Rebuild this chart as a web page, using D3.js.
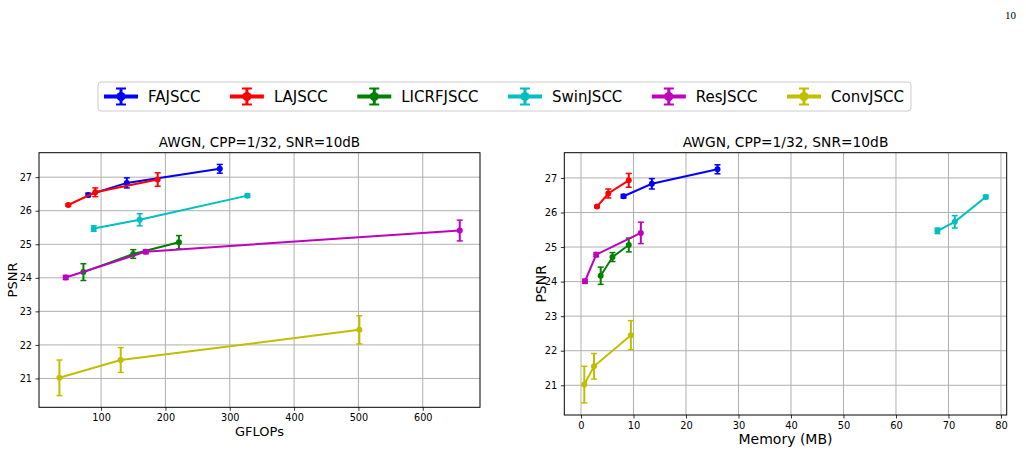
<!DOCTYPE html>
<html>
<head>
<meta charset="utf-8">
<script src="https://cdn.jsdelivr.net/npm/d3@7"></script>
<style>
  body { margin: 0; background: #fff; }
  svg { display: block; font-family: "DejaVu Sans", sans-serif; }
</style>
</head>
<body>
<div id="chart-container"></div>
<script>
// Data
const models = ["FAJSCC", "LAJSCC", "LICRFJSCC", "SwinJSCC", "ResJSCC", "ConvJSCC"];
const colors = ["#0000ff", "#ff0000", "#008000", "#00bfbf", "#bf00bf", "#bfbf00"];
const gflops = [
  [80, 140, 284.5],
  [49, 91, 188],
  [72.5, 150, 221],
  [88.5, 160, 327.5],
  [45, 169.5, 657.5],
  [35.2, 130.5, 501.5]
];
const memoryMB = [
  [8.1, 13.5, 26],
  [3.05, 5.2, 9.1],
  [3.75, 6, 9.1],
  [67.9, 71.2, 77.1],
  [0.76, 2.9, 11.4],
  [0.63, 2.48, 9.5]
];
const psnr = [
  [26.47, 26.83, 27.25],
  [26.17, 26.55, 26.93],
  [24.17, 24.71, 25.06],
  [25.47, 25.73, 26.45],
  [24.01, 24.78, 25.41],
  [21.02, 21.55, 22.45]
];
const psnrErr = [
  [0.05, 0.15, 0.13],
  [0.03, 0.13, 0.2],
  [0.25, 0.13, 0.2],
  [0.08, 0.18, 0.05],
  [0.06, 0.06, 0.31],
  [0.53, 0.37, 0.42]
];
const gflopsTicks = [100, 200, 300, 400, 500, 600];
const memoryTicks = [0, 10, 20, 30, 40, 50, 60, 70, 80];
const psnrTicks = [21, 22, 23, 24, 25, 26, 27];
const chartTitle = "AWGN, CPP=1/32, SNR=10dB";

const width = 1026, height = 453;
const svg = d3.select("#chart-container").append("svg")
  .attr("width", width).attr("height", height);

// page number
svg.append("text").text("10")
  .attr("x", 1016).attr("y", 19)
  .attr("text-anchor", "end")
  .style("font-family", "'Liberation Serif', serif")
  .style("font-size", "11px");

// Panel blueprint
function drawPanel(box, xVals, xDomain, xTicks, xLabel, f) {
  const x = d3.scaleLinear().domain(xDomain).range([box.left, box.right]);
  const y = d3.scaleLinear().domain([20.14, 27.73]).range([box.bottom, box.top]);
  const g = svg.append("g");

  // grid
  g.append("g").selectAll("line").data(xTicks).join("line")
    .attr("x1", d => x(d)).attr("x2", d => x(d))
    .attr("y1", box.top).attr("y2", box.bottom)
    .attr("stroke", "#b0b0b0").attr("stroke-width", 1);
  g.append("g").selectAll("line").data(psnrTicks).join("line")
    .attr("x1", box.left).attr("x2", box.right)
    .attr("y1", d => y(d)).attr("y2", d => y(d))
    .attr("stroke", "#b0b0b0").attr("stroke-width", 1);

  // axes
  const xAxis = g.append("g")
    .attr("transform", `translate(0,${box.bottom})`)
    .call(d3.axisBottom(x).tickValues(xTicks).tickSize(3.5).tickPadding(3.5));
  const yAxis = g.append("g")
    .attr("transform", `translate(${box.left},0)`)
    .call(d3.axisLeft(y).tickValues(psnrTicks).tickSize(3.5).tickPadding(3.5));
  [xAxis, yAxis].forEach(a => {
    a.select(".domain").remove();
    a.selectAll("text").style("font-size", f.tick + "px").attr("fill", "#000")
      .style("font-family", "'DejaVu Sans', sans-serif");
    a.selectAll("line").attr("stroke", "#000").attr("stroke-width", 0.8);
  });

  // series
  models.forEach((m, i) => {
    const pts = xVals[i].map((v, j) => ({ x: v, y: psnr[i][j], e: psnrErr[i][j] }));
    const s = g.append("g").attr("class", "series");
    s.append("path")
      .attr("d", d3.line().x(d => x(d.x)).y(d => y(d.y))(pts))
      .attr("fill", "none").attr("stroke", colors[i]).attr("stroke-width", 2);
    s.selectAll(".eb").data(pts).join("line")
      .attr("x1", d => x(d.x)).attr("x2", d => x(d.x))
      .attr("y1", d => y(d.y - d.e)).attr("y2", d => y(d.y + d.e))
      .attr("stroke", colors[i]).attr("stroke-width", 2);
    [-1, 1].forEach(sign => {
      s.selectAll(null).data(pts).join("line")
        .attr("x1", d => x(d.x) - 3).attr("x2", d => x(d.x) + 3)
        .attr("y1", d => y(d.y + sign * d.e)).attr("y2", d => y(d.y + sign * d.e))
        .attr("stroke", colors[i]).attr("stroke-width", 1.5);
    });
    s.selectAll("circle").data(pts).join("circle")
      .attr("cx", d => x(d.x)).attr("cy", d => y(d.y)).attr("r", 3)
      .attr("fill", colors[i]);
  });

  // frame
  g.append("rect")
    .attr("x", box.left).attr("y", box.top)
    .attr("width", box.right - box.left).attr("height", box.bottom - box.top)
    .attr("fill", "none").attr("stroke", "#000").attr("stroke-width", 1);

  // title and labels
  g.append("text").text(chartTitle)
    .attr("x", (box.left + box.right) / 2).attr("y", box.top - 6)
    .attr("text-anchor", "middle").style("font-size", f.title + "px");
  g.append("text").text(xLabel)
    .attr("x", (box.left + box.right) / 2).attr("y", box.bottom + 29)
    .attr("text-anchor", "middle").style("font-size", f.label + "px");
  g.append("text").text("PSNR")
    .attr("transform", `translate(${box.left - f.yOff},${(box.top + box.bottom) / 2}) rotate(-90)`)
    .attr("text-anchor", "middle").style("font-size", f.label + "px");
}

drawPanel({ left: 39, right: 480, top: 152.7, bottom: 407.3 }, gflops, [3.5, 689], gflopsTicks, "GFLOPs",
  { tick: 9.7, title: 13.5, label: 13, yOff: 22 });
drawPanel({ left: 564.3, right: 1006.7, top: 152.7, bottom: 415 }, memoryMB, [-3.18, 81.09], memoryTicks, "Memory (MB)",
  { tick: 9.9, title: 13.8, label: 14, yOff: 18 });

// Legend
const legend = svg.append("g").attr("id", "legend");
const legendBox = legend.append("rect")
  .attr("x", 98).attr("y", 82).attr("height", 29).attr("rx", 3)
  .attr("fill", "#fff").attr("stroke", "#cccccc").attr("stroke-width", 1);
let lx = 104;
const ly = 96.5;
const colGap = 29.5;
models.forEach((m, i) => {
  const item = legend.append("g");
  item.append("line").attr("x1", lx).attr("x2", lx + 34).attr("y1", ly).attr("y2", ly)
    .attr("stroke", colors[i]).attr("stroke-width", 4);
  item.append("line").attr("x1", lx + 17).attr("x2", lx + 17).attr("y1", ly - 8).attr("y2", ly + 8)
    .attr("stroke", colors[i]).attr("stroke-width", 3);
  [-8, 8].forEach(dy => item.append("line")
    .attr("x1", lx + 12).attr("x2", lx + 22).attr("y1", ly + dy).attr("y2", ly + dy)
    .attr("stroke", colors[i]).attr("stroke-width", 2));
  item.append("circle").attr("cx", lx + 17).attr("cy", ly).attr("r", 4.5).attr("fill", colors[i]);
  const t = item.append("text").text(m)
    .attr("x", lx + 44).attr("y", ly + 5.5).style("font-size", "15px");
  lx += 44 + t.node().getComputedTextLength() + colGap;
});
legendBox.attr("width", lx - colGap + 7 - 98);
</script>
</body>
</html>
